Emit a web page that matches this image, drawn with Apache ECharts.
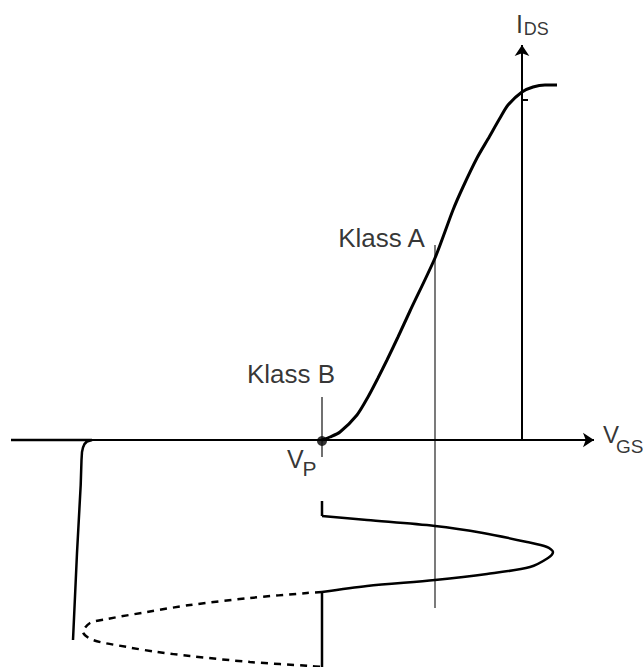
<!DOCTYPE html>
<html>
<head>
<meta charset="utf-8">
<title>Klass A / Klass B</title>
<script src="https://cdn.jsdelivr.net/npm/echarts@6/dist/echarts.min.js"></script>
<style>
    html, body { margin: 0; padding: 0; background: #fff; }
    #chart { width: 644px; height: 667px; }
</style>
</head>
<body>
<div id="chart"></div>
<script>
// units: 1 = 10 px, origin where the two axes cross
// transfer curve I_DS(V_GS)
var transferCurve = [
    [-20.0, 0], [-19.2, 0.3], [-18.2, 0.8], [-16.5, 2.5], [-15.4, 4.3], [-14.4, 6.2],
    [-13.5, 8.0], [-12.4, 10.3], [-11.2, 12.9], [-8.7, 18.2], [-6.9, 23.0],
    [-5.9, 25.3], [-4.5, 28.2], [-3.4, 30.1], [-2.2, 32.2], [-1.4, 33.5], [0, 34.8],
    [1.1, 35.3], [2.3, 35.5], [3.5, 35.5]
];
// input signal (time runs downward), biased at V_P
var inputStubTop = [[-20.0, -6.1], [-20.0, -7.6]];
var inputCurve = [
    [-20.0, -7.6], [-15.5, -8.0], [-8.7, -8.6], [-3.9, -9.3], [0.5, -10.2], [2.5, -10.7],
    [3.1, -11.2], [2.6, -11.8], [0.8, -12.7], [-3.5, -13.4], [-8.7, -14.0], [-15.5, -14.6],
    [-20.0, -15.2]
];
var inputStubBottom = [[-20.0, -15.2], [-20.0, -22.7]];
// negative half that is cut away (dashed)
var missingHalf = [
    [-20.0, -15.2], [-21.5, -15.3], [-27.2, -15.8], [-33.2, -16.5], [-37.5, -17.2], [-41.5, -17.9],
    [-43.2, -18.3], [-43.9, -19.2], [-42.9, -20.0], [-39.5, -20.7], [-36.5, -21.2], [-33.2, -21.6],
    [-27.2, -22.2], [-21.2, -22.6], [-20.0, -22.7]
];
// output curve
var outputCurve = [
    [-51.1, 0], [-43.0, 0], [-43.5, -0.15], [-43.75, -0.4], [-43.9, -0.75], [-44.0, -1.2],
    [-44.05, -2.0], [-44.13, -4.5], [-44.5, -11.3], [-44.9, -20.0]
];
// bias lines
var klassBLine = [[-20.0, 4.3], [-20.0, -1.7]];
var klassALine = [[-8.7, 19.5], [-8.7, -16.8]];
var pinchOff = [[-20.0, -0.1]];
var yTick = [[0.1, 34.0], [0.6, 34.0]];
// axes
var vgsAxis = [[-51.1, 0], [7.2, 0]];
var idsAxis = [[0, 0], [0, 39.5]];
// texts
var annotationText = ['Klass A', 'Klass B', 'V', 'P', 'I', 'DS', 'V', 'GS'];
var annotationAt = [
    [-14.05, 20.25], [-23.1, 6.6], [-23.5, -1.9], [-21.96, -2.85],
    [-0.6, 41.6], [0.17, 41.15], [8.1, 0.55], [9.4, -0.65]
];

var myChart = echarts.init(document.getElementById('chart'), null, { renderer: 'svg' });

var font = "'Liberation Sans', Arial, Helvetica, sans-serif";
// font size and alignment for each text
var textStyle = [
    [26, 'center'], [26, 'center'], [25, 'left'], [21, 'left'],
    [25, 'left'], [18, 'left'], [24, 'left'], [19, 'left']
];

function plainLine(data, width, extra) {
    var s = {
        type: 'line',
        data: data,
        showSymbol: false,
        symbol: 'none',
        silent: true,
        clip: false,
        lineStyle: { color: '#000', width: width }
    };
    for (var k in extra) {
        if (k === 'lineStyle') {
            for (var j in extra.lineStyle) s.lineStyle[j] = extra.lineStyle[j];
        } else {
            s[k] = extra[k];
        }
    }
    return s;
}

function axisArrow(data) {
    return {
        type: 'line',
        data: [],
        silent: true,
        markLine: {
            silent: true,
            animation: false,
            symbol: ['none', 'arrow'],
            symbolSize: 11,
            label: { show: false },
            lineStyle: { color: '#000', width: 2, type: 'solid' },
            data: [[{ coord: data[0] }, { coord: data[1] }]]
        }
    };
}

var labelData = annotationText.map(function (t, i) {
    return {
        value: annotationAt[i],
        label: {
            show: true,
            formatter: t,
            position: 'inside',
            align: textStyle[i][1],
            verticalAlign: 'middle',
            fontSize: textStyle[i][0],
            fontFamily: font,
            color: '#000'
        }
    };
});

var option = {
    animation: false,
    backgroundColor: '#fff',
    grid: { left: 0, right: 0, top: 0, bottom: 0 },
    xAxis: { type: 'value', min: -52.2, max: 12.2, show: false },
    yAxis: { type: 'value', min: -22.7, max: 44.0, show: false },
    series: [
        axisArrow(vgsAxis),
        axisArrow(idsAxis),
        plainLine(yTick, 2),
        plainLine(klassBLine, 1.2, { lineStyle: { color: '#111' } }),
        plainLine(klassALine, 1.2, { lineStyle: { color: '#222' } }),
        plainLine(transferCurve, 3, { smooth: 0.25 }),
        plainLine(inputStubTop, 2.5),
        plainLine(inputCurve, 2.5, { smooth: 0.3 }),
        plainLine(inputStubBottom, 2.5),
        plainLine(missingHalf, 2.5, { smooth: 0.3, lineStyle: { type: [7, 6] } }),
        plainLine(outputCurve, 2.5),
        {
            type: 'scatter',
            data: pinchOff,
            symbolSize: 10,
            silent: true,
            itemStyle: { color: '#000' }
        },
        {
            type: 'scatter',
            data: labelData,
            symbolSize: 0,
            silent: true,
            itemStyle: { color: 'transparent' }
        }
    ]
};

myChart.setOption(option);
</script>
</body>
</html>
